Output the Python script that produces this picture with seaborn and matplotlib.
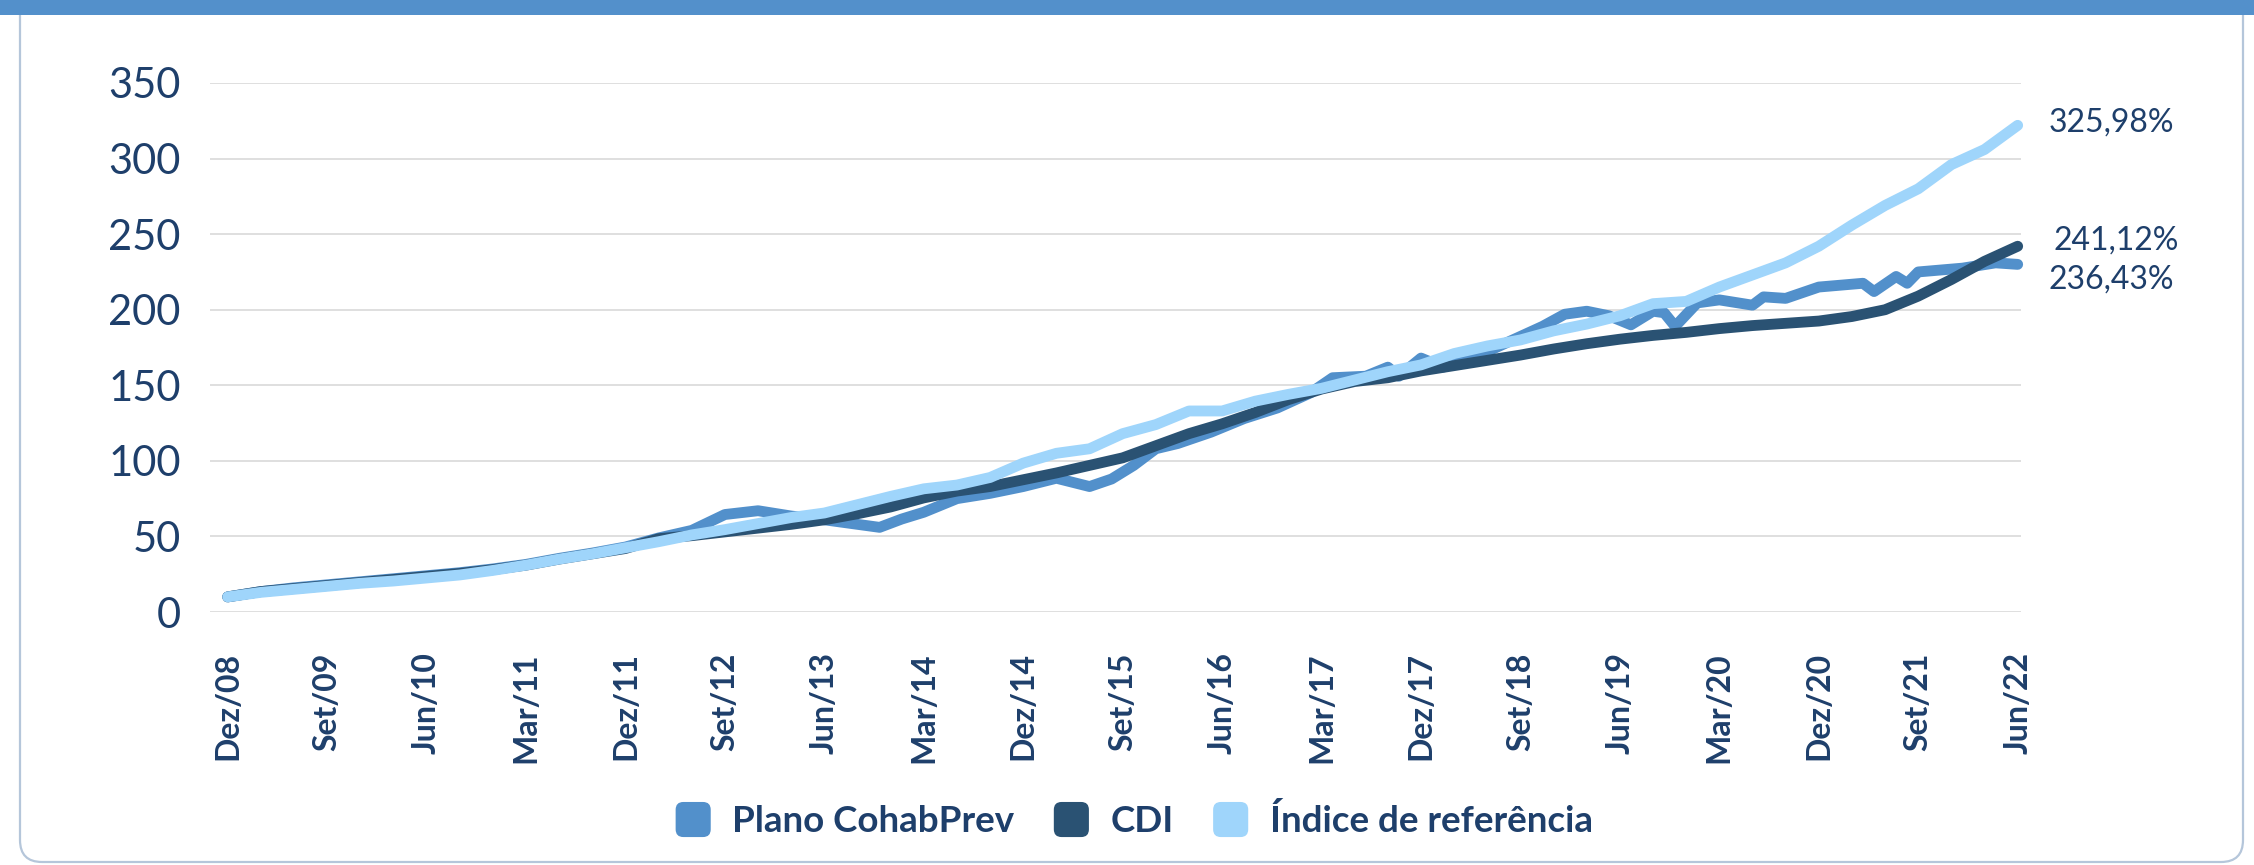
import matplotlib
matplotlib.use("Agg")
import matplotlib.pyplot as plt
import seaborn as sns
import pandas as pd
from matplotlib.patches import FancyBboxPatch, Rectangle, Patch
from matplotlib.legend_handler import HandlerPatch

# ---------------- data ----------------
tick_labels = ["Dez/08", "Set/09", "Jun/10", "Mar/11", "Dez/11", "Set/12", "Jun/13",
               "Mar/14", "Dez/14", "Set/15", "Jun/16", "Mar/17", "Dez/17", "Set/18",
               "Jun/19", "Mar/20", "Dez/20", "Set/21", "Jun/22"]
tick_months = [0, 9, 18, 27, 36, 45, 54, 63, 72, 81, 90, 99, 108, 117, 126, 135, 144, 153, 162]

# month index since Dez/08
meses = list(range(0, 163, 3))

indice = [10, 13, 15, 17, 19, 20.5, 22.5, 24.5, 27.5, 31, 35, 38.5, 42.5, 46.5, 51,
          54.5, 58.5, 62.5, 65.5, 71, 76.5, 81.5, 84, 89, 98.5, 105, 108, 118, 124,
          133, 133, 139.5, 144, 148, 153.5, 159, 163.5, 171, 176, 180, 186, 190.5,
          196, 204, 205.5, 215, 223, 231, 242, 256, 269, 280, 296, 306, 322]

cdi = [10, 13.5, 15.5, 17.5, 19.5, 21.5, 23.5, 25.5, 28, 31, 35, 38.5, 42, 48.5, 50.5,
       53, 55.5, 58, 61, 65, 69.5, 75.5, 80, 83, 87.5, 92, 97, 102, 110, 118, 124.5,
       132, 140.5, 147.5, 152.5, 155, 159.5, 163, 166.5, 170, 174, 177.5, 180.5, 183,
       185, 187.5, 189.5, 191, 192.5, 195.5, 200, 209, 220, 232, 242]

meses_plano = [0, 3, 6, 9, 12, 15, 18, 21, 24, 27, 30, 33, 36, 39, 42, 45, 48, 51, 54,
               57, 59, 61, 63, 66, 69, 72, 75, 78, 80, 82, 84, 86, 89, 92, 95, 98, 100,
               103, 105, 106, 108, 110, 113, 116, 119, 121, 123, 125, 127, 129, 130, 131,
               133, 135, 138, 139, 141, 144, 148, 149, 151, 152, 153, 157, 160, 162]
plano = [10, 13.5, 16, 18, 20, 22, 24, 26, 28.5, 31.5, 35.5, 39, 43, 49, 54, 64.5, 67,
         63.5, 61, 58, 56, 61.5, 66, 75, 78.5, 83, 88.5, 83, 88, 97, 108, 111.5, 119,
         128, 135, 145, 155, 156, 162, 156, 168, 162, 169, 179, 189, 197, 199, 196, 190,
         199, 198, 189, 204.5, 206.5, 203, 208.5, 207.5, 215, 217.5, 212, 222, 217.5,
         225, 227.5, 231, 230]

end_labels = {"Índice de referência": "325,98%", "CDI": "241,12%", "Plano CohabPrev": "236,43%"}

# ---------------- style ----------------
sns.set_theme(style="white")
plt.rcParams["font.family"] = ["Lato", "DejaVu Sans"]

TXT = "#1e3f6b"
C_PLANO = "#5290cb"
C_CDI = "#2a5273"
C_IND = "#9fd5fb"

W, H = 2254, 865
fig = plt.figure(figsize=(W / 100, H / 100), dpi=100)
fig.patch.set_facecolor("white")

# frame + top bar
frame = FancyBboxPatch((20 / 100, 3 / 100), (2243 - 20) / 100, (H - 3) / 100 + 0.3,
                       boxstyle="round,pad=0,rounding_size=0.22",
                       transform=fig.dpi_scale_trans, facecolor="none",
                       edgecolor="#b5c6da", lw=1.6, zorder=0)
fig.patches.append(frame)
bar = Rectangle((0, (H - 15) / 100), W / 100, 0.2, transform=fig.dpi_scale_trans,
                facecolor="#5390cb", edgecolor="none", zorder=1)
fig.patches.append(bar)

ax = fig.add_axes([210 / W, 1 - 612 / H, (2021 - 210) / W, (612 - 83) / H])
ax.set_facecolor("none")

df_ind = pd.DataFrame({"mes": meses, "valor": indice})
df_cdi = pd.DataFrame({"mes": meses, "valor": cdi})
df_pl = pd.DataFrame({"mes": meses_plano, "valor": plano})

lw = 7.8
series = [(df_pl, C_PLANO, "Plano CohabPrev", 3),
          (df_cdi, C_CDI, "CDI", 4),
          (df_ind, C_IND, "Índice de referência", 5)]
for df, c, name, z in series:
    sns.lineplot(data=df, x="mes", y="valor", ax=ax, color=c, lw=lw, zorder=z,
                 solid_capstyle="round", solid_joinstyle="round", legend=False,
                 clip_on=False)

ax.set_xlim(-1.6, 162.3)
ax.set_ylim(0, 350)
ax.set_yticks(range(0, 351, 50))
ax.set_yticklabels([str(v) for v in range(0, 351, 50)])
ax.set_xticks(tick_months)
ax.set_xticklabels(tick_labels, rotation=90, fontweight="bold", fontsize=23,
                   color=TXT, va="top", ha="center")
ax.tick_params(axis="y", length=0, pad=21, labelsize=30, labelcolor=TXT)
ax.tick_params(axis="x", length=0, pad=29)
for lab in ax.get_yticklabels():
    lab.set_fontsize(30)
    lab.set_color(TXT)
ax.set_xlabel("")
ax.set_ylabel("")
for s in ax.spines.values():
    s.set_visible(False)
ax.grid(False)
ax.yaxis.grid(True, color="#d9d9d9", lw=1.2)
ax.set_axisbelow(True)

# end labels
offsets = {"Índice de referência": (22, 2), "CDI": (26, 4), "Plano CohabPrev": (22, -11)}
for df, c, name, z in series:
    xl = df["mes"].iloc[-1]
    yl = df["valor"].iloc[-1]
    ax.annotate(end_labels[name], xy=(xl, yl), xytext=offsets[name],
                textcoords="offset points", ha="left", va="center",
                fontsize=23, color=TXT, annotation_clip=False)

# legend with rounded squares
class RoundSquare(HandlerPatch):
    def create_artists(self, legend, orig_handle, xdescent, ydescent, width, height,
                       fontsize, trans):
        s = min(width, height)
        x0 = -xdescent + (width - s) / 2
        y0 = -ydescent + (height - s) / 2
        p = FancyBboxPatch((x0, y0), s, s,
                           boxstyle=f"round,pad=0,rounding_size={s * 0.22}",
                           facecolor=orig_handle.get_facecolor(), edgecolor="none",
                           transform=trans)
        return [p]

handles = [Patch(facecolor=c, label=name) for _, c, name, _ in series]
leg = fig.legend(handles=handles, loc="center", bbox_to_anchor=(1133 / W, 1 - 820 / H),
                 ncol=3, frameon=False, handler_map={Patch: RoundSquare()},
                 handlelength=1.09, handleheight=1.09, handletextpad=0.52,
                 columnspacing=1.0, prop={"weight": "bold", "size": 26.5})
for t in leg.get_texts():
    t.set_color(TXT)

fig.savefig("out.png", dpi=100, facecolor="white")
